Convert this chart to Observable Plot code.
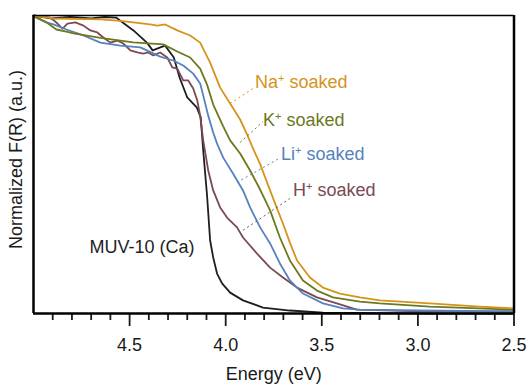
<!DOCTYPE html>
<html><head><meta charset="utf-8">
<script src="https://cdn.jsdelivr.net/npm/d3@7"></script>
<script src="https://cdn.jsdelivr.net/npm/@observablehq/plot@0.6"></script>
<style>html,body{margin:0;padding:0;background:#fff;}</style>
</head><body><div id="chart"></div>
<script>
// ---- data (energy in eV, normalized F(R)) ----
const muvE = [5.0, 4.91, 4.81, 4.70, 4.63, 4.57, 4.55, 4.48, 4.41, 4.38, 4.34, 4.315, 4.27, 4.24, 4.20, 4.15, 4.13, 4.117, 4.097, 4.081, 4.065, 4.045, 4.019, 3.977, 3.91, 3.806, 3.666, 3.494, 3.2, 2.9, 2.5];
const muvF = [1.0, 0.99, 0.995, 0.99, 0.995, 0.993, 0.983, 0.95, 0.909, 0.883, 0.893, 0.899, 0.859, 0.792, 0.725, 0.691, 0.658, 0.547, 0.396, 0.245, 0.188, 0.134, 0.101, 0.070, 0.044, 0.020, 0.010, 0.003, 0.001, 0.0, 0.0];

const naE = [5.0, 4.896, 4.652, 4.564, 4.481, 4.393, 4.356, 4.315, 4.252, 4.185, 4.133, 4.081, 4.029, 3.977, 3.925, 3.889, 3.858, 3.822, 3.769, 3.733, 3.702, 3.666, 3.629, 3.562, 3.494, 3.406, 3.302, 3.198, 2.939, 2.679, 2.5];
const naF = [1.0, 0.99, 0.987, 0.983, 0.977, 0.97, 0.966, 0.97, 0.95, 0.933, 0.909, 0.842, 0.758, 0.705, 0.651, 0.601, 0.554, 0.503, 0.413, 0.352, 0.302, 0.238, 0.178, 0.121, 0.087, 0.067, 0.054, 0.044, 0.034, 0.023, 0.017];

const kE = [5.0, 4.933, 4.881, 4.829, 4.792, 4.652, 4.481, 4.325, 4.252, 4.185, 4.133, 4.097, 4.065, 4.013, 3.977, 3.925, 3.873, 3.821, 3.769, 3.718, 3.666, 3.598, 3.525, 3.442, 3.302, 3.198, 2.939, 2.679, 2.5];
const kF = [0.997, 0.977, 0.953, 0.946, 0.94, 0.925, 0.91, 0.903, 0.879, 0.859, 0.822, 0.768, 0.701, 0.628, 0.581, 0.537, 0.48, 0.416, 0.346, 0.255, 0.178, 0.111, 0.077, 0.054, 0.04, 0.034, 0.023, 0.017, 0.013];

const liE = [5.0, 4.933, 4.896, 4.829, 4.74, 4.652, 4.548, 4.444, 4.341, 4.273, 4.221, 4.169, 4.133, 4.117, 4.091, 4.065, 4.045, 4.013, 3.962, 3.91, 3.873, 3.821, 3.769, 3.718, 3.666, 3.598, 3.494, 3.39, 3.302, 2.99, 2.5];
const liF = [1.0, 0.977, 0.97, 0.953, 0.933, 0.909, 0.899, 0.893, 0.862, 0.849, 0.832, 0.805, 0.772, 0.732, 0.664, 0.607, 0.57, 0.523, 0.47, 0.413, 0.356, 0.289, 0.235, 0.168, 0.111, 0.067, 0.034, 0.017, 0.013, 0.01, 0.007];

const hE = [5.0, 4.912, 4.875, 4.849, 4.823, 4.782, 4.74, 4.704, 4.668, 4.637, 4.6, 4.564, 4.533, 4.496, 4.46, 4.429, 4.403, 4.377, 4.341, 4.304, 4.278, 4.252, 4.221, 4.195, 4.169, 4.148, 4.133, 4.117, 4.091, 4.065, 4.029, 3.993, 3.941, 3.91, 3.837, 3.769, 3.702, 3.629, 3.525, 3.422, 3.318, 2.99, 2.5];
const hF = [1.0, 0.993, 0.973, 0.956, 0.973, 0.977, 0.966, 0.95, 0.943, 0.926, 0.909, 0.916, 0.906, 0.883, 0.876, 0.872, 0.876, 0.866, 0.876, 0.859, 0.826, 0.822, 0.782, 0.782, 0.755, 0.715, 0.664, 0.581, 0.48, 0.413, 0.356, 0.322, 0.289, 0.255, 0.201, 0.154, 0.121, 0.087, 0.054, 0.034, 0.013, 0.007, 0.007];

const seriesNames = ["MUV-10 (Ca)", "H+ soaked", "Li+ soaked", "K+ soaked", "Na+ soaked"];
const seriesColors = ["#1e1e1e", "#7b4954", "#5682bd", "#6c791c", "#d6931b"];

// labels and leader lines
const labelText = ["MUV-10 (Ca)", "Na+ soaked", "K+ soaked", "Li+ soaked", "H+ soaked"];
const labelColor = ["#1e1e1e", "#d6931b", "#6c791c", "#5682bd", "#7b4954"];
const labelE = [4.709, 3.847, 3.806, 3.712, 3.650];
const labelF = [0.221, 0.7745, 0.650, 0.533, 0.412];

const leaderColor = ["#d6931b", "#6c791c", "#5682bd", "#7b4954"];
const leaderE1 = [3.977, 3.925, 3.941, 3.910];
const leaderF1 = [0.705, 0.574, 0.440, 0.279];
const leaderE2 = [3.858, 3.806, 3.723, 3.666];
const leaderF2 = [0.755, 0.644, 0.520, 0.386];

const majorTicks = [4.5, 4.0, 3.5, 3.0, 2.5];
const minorTicks = [4.9, 4.8, 4.7, 4.6, 4.4, 4.3, 4.2, 4.1, 3.9, 3.8, 3.7, 3.6, 3.4, 3.3, 3.2, 3.1, 2.9, 2.8, 2.7, 2.6];

const xTitle = "Energy (eV)";
const yTitle = "Normalized F(R) (a.u.)";

// ---- build tables ----
const seriesData = {
  "MUV-10 (Ca)": [muvE, muvF],
  "Na+ soaked": [naE, naF],
  "K+ soaked": [kE, kF],
  "Li+ soaked": [liE, liF],
  "H+ soaked": [hE, hF]
};
const rows = seriesNames.flatMap(name => {
  const [E, F] = seriesData[name];
  return E.map((e, i) => ({series: name, E: e, F: F[i]}));
});
const labels = labelText.map((t, i) => ({t, E: labelE[i], F: labelF[i], c: labelColor[i]}));
const leaders = leaderColor.map((c, i) => ({c, x1: leaderE1[i], y1: leaderF1[i], x2: leaderE2[i], y2: leaderF2[i]}));

const font = "'Liberation Sans', Arial, Helvetica, sans-serif";

const chart = Plot.plot({
  width: 527,
  height: 386,
  marginLeft: 33,
  marginRight: 13.5,
  marginTop: 15,
  marginBottom: 73,
  style: {fontFamily: font, fontSize: "18px", color: "#1a1a1a", background: "#fff"},
  x: {domain: [5.0, 2.5]},
  y: {domain: [0, 1], axis: null},
  color: {domain: seriesNames, range: seriesColors},
  marks: [
    Plot.axisX(minorTicks, {tickSize: 7, strokeWidth: 1.8, tickFormat: () => "", label: null}),
    Plot.axisX(majorTicks, {tickSize: 13, tickPadding: 12, strokeWidth: 1.8, tickFormat: d3.format(".1f"), label: null, fontSize: 18}),
    Plot.line(rows, {x: "E", y: "F", z: "series", stroke: "series", strokeWidth: 1.8, curve: "linear"}),
    Plot.link(leaders, {x1: "x1", y1: "y1", x2: "x2", y2: "y2", stroke: d => d.c, strokeWidth: 1, strokeDasharray: "2,3"}),
    Plot.ruleY([1], {stroke: "#000", strokeWidth: 1.5}),
    Plot.ruleY([0], {stroke: "#000", strokeWidth: 2.5}),
    Plot.ruleX([5.0], {stroke: "#000", strokeWidth: 2.5}),
    Plot.ruleX([2.5], {stroke: "#000", strokeWidth: 2.5}),
    Plot.text(labels, {x: "E", y: "F", text: "t", fill: d => d.c, textAnchor: "start", lineAnchor: "middle", fontSize: 18}),
    Plot.text([xTitle], {frameAnchor: "bottom", textAnchor: "middle", dy: 66, fontSize: 18, fill: "#1a1a1a"}),
    Plot.text([yTitle], {frameAnchor: "left", textAnchor: "middle", rotate: -90, dx: -17, dy: -5, fontSize: 18, fill: "#1a1a1a"})
  ]
});

// superscript "+" in ion labels
d3.select(chart).selectAll("text").each(function () {
  if (this.querySelector("tspan")) return;
  const t = this.textContent;
  const i = t.indexOf("+");
  if (i < 0) return;
  const el = d3.select(this);
  el.text(null);
  el.append("tspan").text(t.slice(0, i));
  el.append("tspan").attr("dy", -6).attr("font-size", 11).text("+");
  el.append("tspan").attr("dy", 6).text(t.slice(i + 1));
});

document.getElementById("chart").appendChild(chart);
</script>
</body></html>
